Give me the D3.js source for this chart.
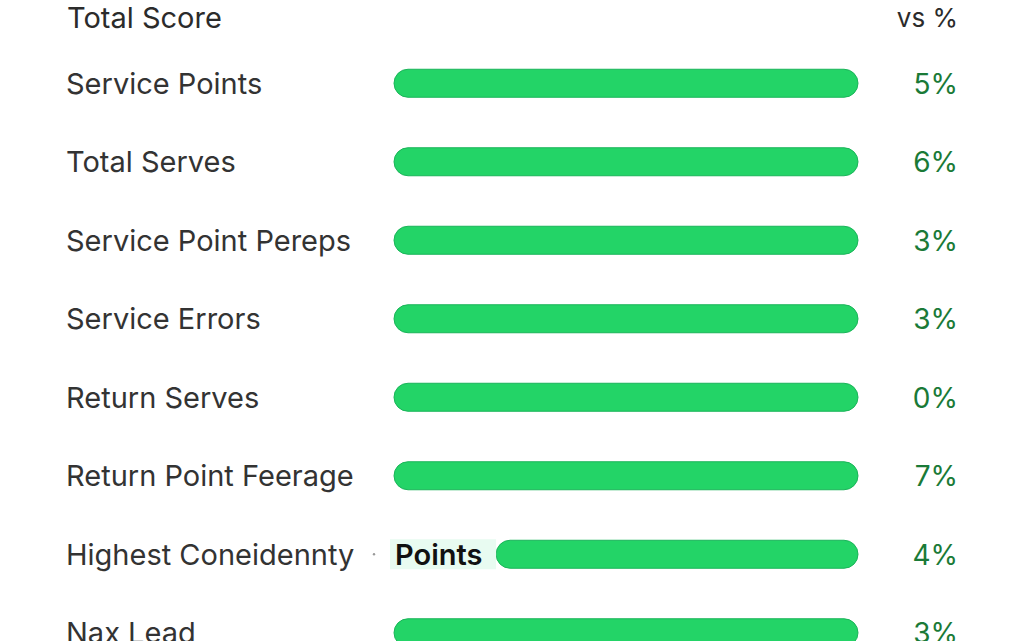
<!DOCTYPE html>
<html>
<head>
<meta charset="utf-8">
<script src="https://cdn.jsdelivr.net/npm/d3@7"></script>
<style>
  html, body { margin: 0; padding: 0; background: #ffffff; }
  svg { display: block; }
  text { font-family: Inter, "Noto Sans", "DejaVu Sans", sans-serif; }
</style>
</head>
<body>
<svg id="chart" width="1026" height="641"></svg>
<script>
const categories = [
  "Service Points",
  "Total Serves",
  "Service Point Pereps",
  "Service Errors",
  "Return Serves",
  "Return Point Feerage",
  "Highest Coneidennty",
  "Nax Lead"
];
const barValues = [100, 100, 100, 100, 100, 100, 100, 100];
const vsPercent = ["5%", "6%", "3%", "3%", "0%", "7%", "4%", "3%"];
const headerLeft = "Total Score";
const headerRight = "vs %";
const insetLabel = { row: "Highest Coneidennty", text: "Points", value: 22 };

const svg = d3.select("#chart");

const y = d3.scaleBand()
  .domain(categories)
  .range([44, 672])
  .paddingInner(0)
  .paddingOuter(0);

const x = d3.scaleLinear().domain([0, 100]).range([394, 858]);

const barH = 28;
const rowC = d => y(d) + y.bandwidth() / 2;
const fs = 29;

// header
svg.append("text")
  .attr("x", 67).attr("y", 28)
  .attr("font-size", fs).attr("fill", "#2b2b2b")
  .text(headerLeft);
svg.append("text")
  .attr("x", 958).attr("y", 27)
  .attr("text-anchor", "end")
  .attr("font-size", 26).attr("fill", "#2b2b2b")
  .text(headerRight);

// category labels
svg.selectAll("text.cat")
  .data(categories)
  .join("text")
  .attr("class", "cat")
  .attr("x", 66)
  .attr("y", d => rowC(d) + 10.5)
  .attr("font-size", fs)
  .attr("fill", "#333333")
  .text(d => d);

// bars
svg.selectAll("rect.bar")
  .data(categories)
  .join("rect")
  .attr("class", "bar")
  .attr("x", d => d === insetLabel.row ? x(insetLabel.value) : x(0))
  .attr("y", d => rowC(d) - barH / 2)
  .attr("width", (d, i) => (d === insetLabel.row ? x(barValues[i]) - x(insetLabel.value) : x(barValues[i]) - x(0)))
  .attr("height", barH)
  .attr("rx", barH / 2)
  .attr("fill", "#23d467")
  .attr("stroke", "#1ab459")
  .attr("stroke-width", 1);

// inset label on the highlighted row
const ir = rowC(insetLabel.row);
svg.append("rect")
  .attr("x", x(0) - 4)
  .attr("y", ir - 15)
  .attr("width", x(insetLabel.value) - x(0) + 4)
  .attr("height", 30)
  .attr("fill", "#e8fbf1");
svg.append("text")
  .attr("x", x(0) + 1)
  .attr("y", ir + 10.5)
  .attr("font-size", 29)
  .attr("font-weight", 600)
  .attr("fill", "#111111")
  .text(insetLabel.text);
svg.append("circle")
  .attr("cx", 374).attr("cy", ir)
  .attr("r", 1.2).attr("fill", "#999");

// percent labels
svg.selectAll("text.pct")
  .data(categories)
  .join("text")
  .attr("class", "pct")
  .attr("x", 958)
  .attr("y", d => rowC(d) + 10.5)
  .attr("text-anchor", "end")
  .attr("font-size", 28)
  .attr("fill", "#1a7a37")
  .text((d, i) => vsPercent[i]);
</script>
</body>
</html>
